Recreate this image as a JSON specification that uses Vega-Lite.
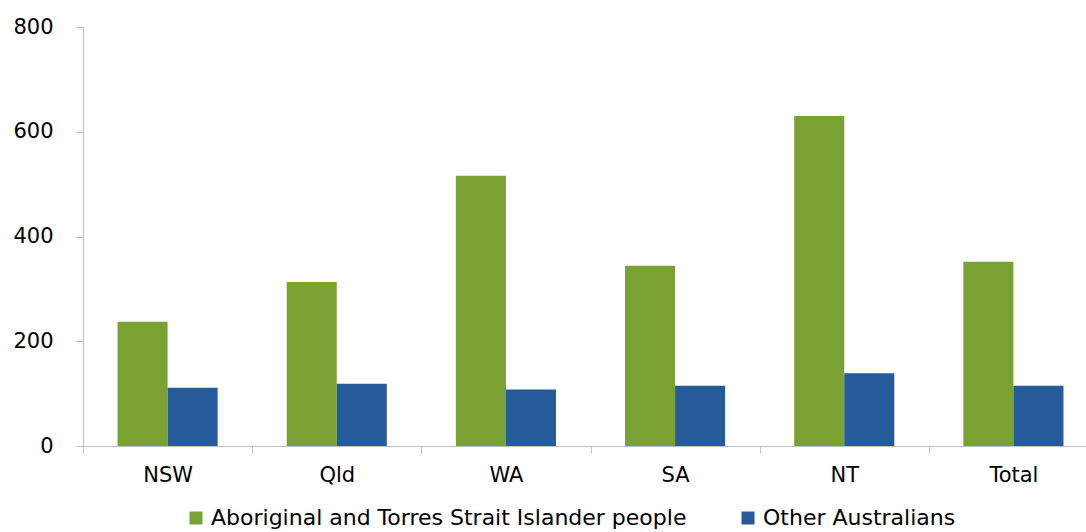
{
  "$schema": "https://vega.github.io/schema/vega-lite/v6.json",
  "autosize": {"type": "none"},
  "padding": {"left": 83, "top": 27, "right": 0, "bottom": 86},
  "width": 1003,
  "height": 419,
  "background": "white",
  "config": {"view": {"stroke": null}, "font": "DejaVu Sans"},
  "data": {"values": [
    {"state": "NSW", "series": "Aboriginal and Torres Strait Islander people", "value": 237},
    {"state": "NSW", "series": "Other Australians", "value": 111},
    {"state": "Qld", "series": "Aboriginal and Torres Strait Islander people", "value": 313},
    {"state": "Qld", "series": "Other Australians", "value": 119},
    {"state": "WA", "series": "Aboriginal and Torres Strait Islander people", "value": 516},
    {"state": "WA", "series": "Other Australians", "value": 108},
    {"state": "SA", "series": "Aboriginal and Torres Strait Islander people", "value": 344},
    {"state": "SA", "series": "Other Australians", "value": 115},
    {"state": "NT", "series": "Aboriginal and Torres Strait Islander people", "value": 630},
    {"state": "NT", "series": "Other Australians", "value": 139},
    {"state": "Total", "series": "Aboriginal and Torres Strait Islander people", "value": 352},
    {"state": "Total", "series": "Other Australians", "value": 115}
  ]},
  "mark": {"type": "bar"},
  "encoding": {
    "x": {
      "field": "state", "type": "nominal",
      "sort": ["NSW", "Qld", "WA", "SA", "NT", "Total"],
      "scale": {"range": [0, 1015], "paddingInner": 0, "paddingOuter": 0},
      "axis": {
        "title": null, "labelAngle": 0, "tickBand": "extent",
        "domainColor": "#BFBFBF", "tickColor": "#BFBFBF", "tickSize": 7,
        "labelFontSize": 21, "labelColor": "#000000", "labelPadding": 11,
        "labelFont": "DejaVu Sans"
      }
    },
    "xOffset": {
      "field": "series", "type": "nominal",
      "scale": {"paddingOuter": 0.69, "paddingInner": 0}
    },
    "y": {
      "field": "value", "type": "quantitative",
      "scale": {"domain": [0, 800], "nice": false},
      "axis": {
        "title": null, "values": [0, 200, 400, 600, 800], "grid": false,
        "domainColor": "#BFBFBF", "tickColor": "#BFBFBF", "tickSize": 7,
        "labelFontSize": 21, "labelColor": "#000000", "labelPadding": 23,
        "labelFont": "DejaVu Sans"
      }
    },
    "color": {
      "field": "series", "type": "nominal",
      "scale": {
        "domain": ["Aboriginal and Torres Strait Islander people", "Other Australians"],
        "range": ["#7AA232", "#265B99"]
      },
      "legend": {
        "title": null, "orient": "none", "direction": "horizontal",
        "legendX": 102, "legendY": 480,
        "symbolType": "square", "symbolSize": 169, "symbolStrokeWidth": 0,
        "symbolOpacity": 1, "labelFontSize": 22, "labelColor": "#000000",
        "labelFont": "DejaVu Sans", "labelOffset": 4, "columnPadding": 50,
        "labelLimit": 700
      }
    }
  }
}
